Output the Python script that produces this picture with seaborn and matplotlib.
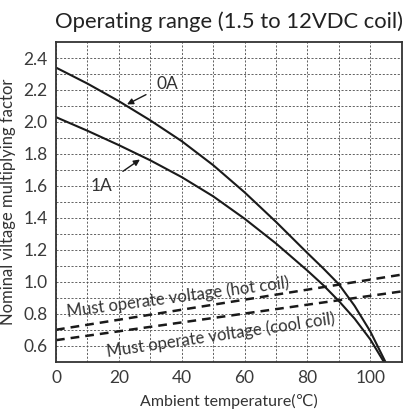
import matplotlib
matplotlib.use("Agg")
import matplotlib.pyplot as plt
import seaborn as sns
import pandas as pd

# data
temp_0a = [0, 10, 20, 30, 40, 50, 60, 70, 80, 85, 90, 95, 100, 104.8]
factor_0a = [2.34, 2.24, 2.13, 2.01, 1.88, 1.73, 1.56, 1.375, 1.18, 1.085, 0.985, 0.85, 0.69, 0.50]
temp_1a = [0, 10, 20, 30, 40, 50, 60, 70, 80, 85, 90, 95, 100, 104.3]
factor_1a = [2.03, 1.945, 1.855, 1.76, 1.655, 1.535, 1.395, 1.24, 1.07, 0.98, 0.88, 0.77, 0.64, 0.50]
coil_temp = [0, 110]
hot_coil = [0.70, 1.045]
cool_coil = [0.635, 0.94]

x_ticks = [0, 20, 40, 60, 80, 100]
y_ticks = [0.6, 0.8, 1.0, 1.2, 1.4, 1.6, 1.8, 2.0, 2.2, 2.4]

sns.set_theme(style="white")
plt.rcParams['font.family'] = ['Lato', 'DejaVu Sans']

df = pd.concat([
    pd.DataFrame({'temp': temp_0a, 'factor': factor_0a, 'current': '0A'}),
    pd.DataFrame({'temp': temp_1a, 'factor': factor_1a, 'current': '1A'}),
])
coil = pd.concat([
    pd.DataFrame({'temp': coil_temp, 'factor': hot_coil, 'coil': 'hot'}),
    pd.DataFrame({'temp': coil_temp, 'factor': cool_coil, 'coil': 'cool'}),
])

fig = plt.figure(figsize=(4.13, 4.12), dpi=100)
ax = fig.add_axes([0.1356, 0.122, 0.837, 0.776])

sns.lineplot(data=df, x='temp', y='factor', units='current', estimator=None,
             color='#1a1a1a', linewidth=1.5, ax=ax, legend=False)
n = len(ax.lines)
sns.lineplot(data=coil, x='temp', y='factor', units='coil', estimator=None,
             color='#1a1a1a', linewidth=1.8, ax=ax, legend=False)
for ln in ax.lines[n:]:
    ln.set_linestyle((0, (3.5, 2.4)))

ax.set_xlim(0, 110)
ax.set_ylim(0.5, 2.5)
ax.set_xticks(x_ticks)
ax.set_xticks(range(10, 111, 20), minor=True)
ax.set_yticks(y_ticks)
ax.set_yticks([0.7, 0.9, 1.1, 1.3, 1.5, 1.7, 1.9, 2.1, 2.3], minor=True)
ax.set_xticklabels([str(v) for v in x_ticks])
ax.set_yticklabels([f"{v:.1f}" for v in y_ticks])
ax.tick_params(which='both', length=0, labelsize=12.5, colors='#3a3a3a', pad=6)
ax.grid(True, which='both', color='#4a4a4a', linestyle=(0, (2.5, 2)), linewidth=0.6)
ax.set_axisbelow(True)
for s in ax.spines.values():
    s.set_color('#333333')
    s.set_linewidth(1.3)

ax.set_title("Operating range (1.5 to 12VDC coil)", fontsize=15.8, color='#222222', pad=10)
ax.set_xlabel("Ambient temperature(℃)", fontsize=11.5, color='#333333', labelpad=6)
ax.set_ylabel("Nominal viltage multiplying factor", fontsize=12, color='#333333', labelpad=5)

# curve labels with arrows
ax.annotate("0A", xy=(22.6, 2.11), xytext=(35.5, 2.24), fontsize=12.5, color='#333333',
            ha='center', va='center',
            arrowprops=dict(arrowstyle='-|>', color='#1a1a1a', lw=1.0,
                            shrinkA=6, shrinkB=0, mutation_scale=9))
ax.annotate("1A", xy=(26.7, 1.765), xytext=(14.6, 1.60), fontsize=12.5, color='#333333',
            ha='center', va='center',
            arrowprops=dict(arrowstyle='-|>', color='#1a1a1a', lw=1.0,
                            shrinkA=6, shrinkB=0, mutation_scale=9))

ax.text(38.8, 0.905, "Must operate voltage (hot coil)", fontsize=12, color='#333333',
        rotation=7.5, ha='center', va='center', rotation_mode='anchor')
ax.text(52.5, 0.665, "Must operate voltage (cool coil)", fontsize=12, color='#333333',
        rotation=8.3, ha='center', va='center', rotation_mode='anchor')

fig.savefig("out.png", dpi=100)
